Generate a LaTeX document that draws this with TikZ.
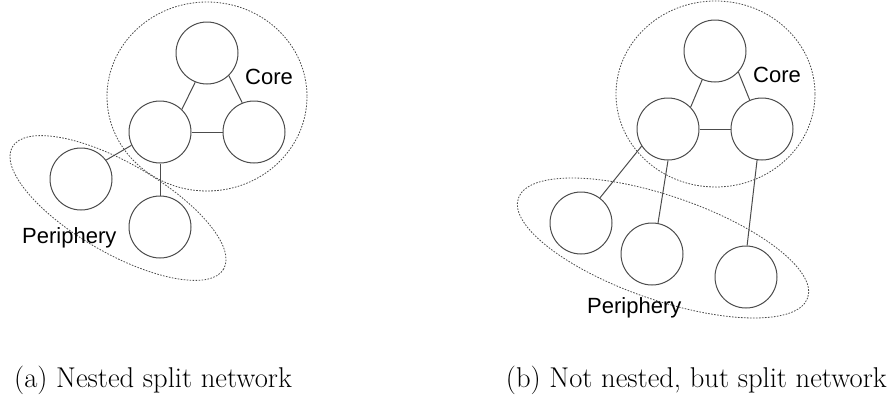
\documentclass[tikz,border=0pt]{standalone}
\usepackage{fontspec}
\newfontfamily\labelfont{Liberation Sans}
\begin{document}
\begin{tikzpicture}[x=1pt,y=-1pt,
  vertex/.style={circle, draw=black!70, line width=1pt, minimum size=62pt, inner sep=0pt},
  link/.style={draw=black!70, line width=1pt},
  group/.style={draw=black!70, line width=0.8pt, dash pattern=on 1.6pt off 1.4pt},
  tag/.style={font=\labelfont\fontsize{22}{26}\selectfont, anchor=base west, inner sep=0pt},
  caption/.style={font=\fontsize{28.6}{34}\selectfont, anchor=base west, inner sep=0pt}]
\useasboundingbox (0,0) rectangle (891,402);

% ---- (a) nested split network ----
\draw[group] (207,96.5) ellipse [x radius=100, y radius=94.5];
\draw[group, rotate around={-30:(118,208)}] (118,208) ellipse [x radius=122, y radius=45];

\node[vertex] (aT) at (207,53) {};
\node[vertex] (aL) at (160,132) {};
\node[vertex] (aR) at (254,132) {};
\node[vertex] (aP1) at (81,179) {};
\node[vertex] (aP2) at (160,227) {};

\draw[link] (aT.-112) -- (aL.46);
\draw[link] (aT.-46) -- (aR.112);
\draw[link] (aL.east) -- (aR.west);
\draw[link] (aL.-155) -- (aP1.37);
\draw[link] (aL.south) -- (aP2.north);

\node[tag] (aCore) at (245,84) {Core};
\node[tag] (aPeri) at (22,243) {Periphery};

% ---- (b) not nested, but split network ----
\draw[group] (715.5,94) ellipse [x radius=99.5, y radius=93];
\draw[group, rotate around={-19:(663,248)}] (663,248) ellipse [x radius=153, y radius=52];

\node[vertex] (bT) at (715,51) {};
\node[vertex] (bL) at (668,129) {};
\node[vertex] (bR) at (762,129) {};
\node[vertex] (bP1) at (581,223) {};
\node[vertex] (bP2) at (652,254) {};
\node[vertex] (bP3) at (746,277) {};

\draw[link] (bT.-114) -- (bL.44);
\draw[link] (bT.-42) -- (bR.113);
\draw[link] (bL.east) -- (bR.west);
\draw[link] (bL.-147) -- (bP1.53);
\draw[link] (bL.-90) -- (bP2.79);
\draw[link] (bR.-99) -- (bP3.88);

\node[tag] (bCore) at (753,82) {Core};
\node[tag] (bPeri) at (587,313) {Periphery};

% ---- captions ----
\node[caption] (capA) at (14,387) {(a) Nested split network};
\node[caption, anchor=base east] (capB) at (887,387) {(b) Not nested, but split network};
\end{tikzpicture}
\end{document}
